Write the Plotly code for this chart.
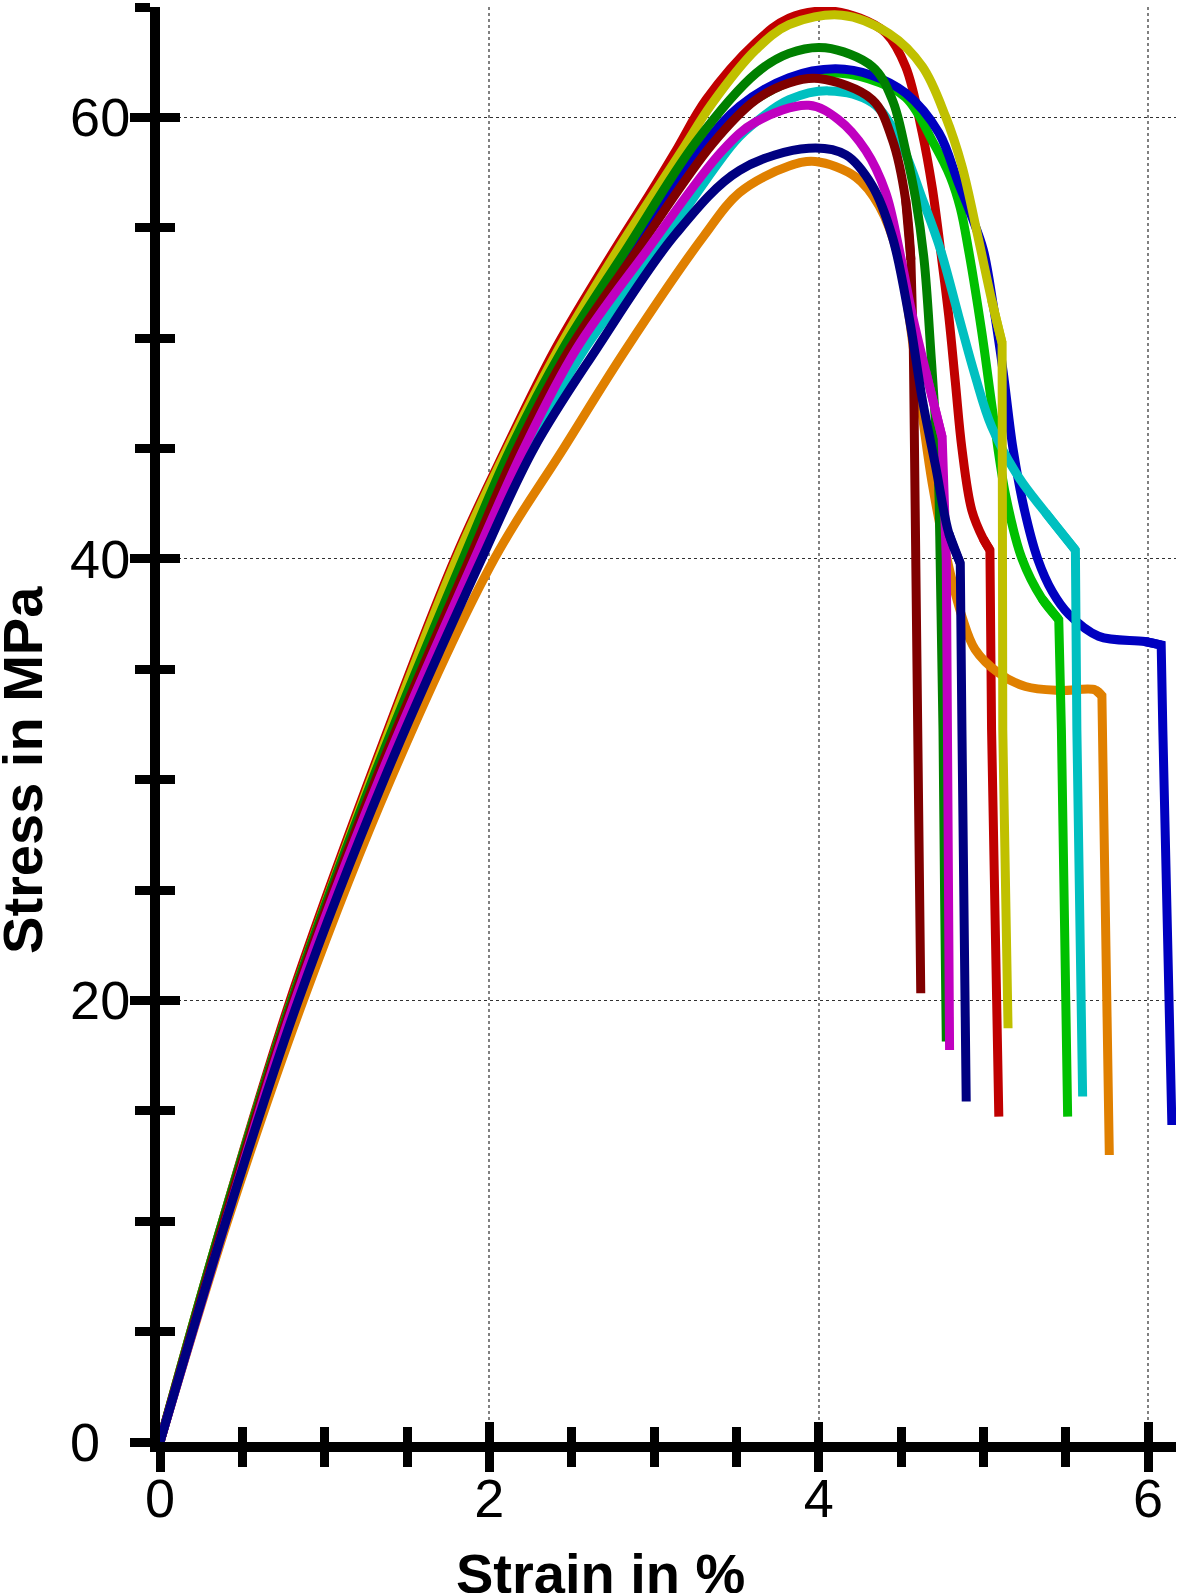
"""Stress-strain curves of ten tensile specimens."""

import plotly.graph_objects as go

# strain in %, stress in MPa, one pair of lists per specimen
strain_red = [0, 0.38, 0.79, 1.27, 1.79, 2.10, 2.40, 2.76, 2.98, 3.134, 3.316, 3.62, 3.82, 4.06, 4.25,
              4.407, 4.528, 4.629, 4.69, 4.74, 4.79, 4.83, 4.87, 4.93, 5.0, 5.04, 5.05, 5.07, 5.094]
stress_red = [0, 10, 20, 30, 40, 45, 49.5, 54, 56.6, 58.5, 60.8, 63.4, 64.5, 64.82, 64.5,
              63.83, 62.3, 59.3, 56.8, 54.0, 51.0, 48.0, 45.0, 42.2, 40.9, 40.4, 32.26, 23.06, 14.74]

strain_orange = [0, 0.41, 0.87, 1.40, 2.03, 2.45, 2.83, 3.30, 3.52, 3.82, 3.98, 4.225, 4.367, 4.488,
                 4.62, 4.69, 4.79, 4.87, 4.95, 5.094, 5.256, 5.458, 5.68, 5.72, 5.73, 5.75, 5.765]
stress_orange = [0, 10, 20, 30, 40, 45, 49.5, 54.6, 56.6, 57.8, 58.0, 57.3, 56.0, 53.55,
                 47.0, 43.4, 39.66, 37.4, 35.9, 34.83, 34.22, 34.04, 34.07, 33.8, 29.1, 20.0, 13.0]

strain_lime = [0, 0.39, 0.80, 1.30, 1.86, 2.16, 2.47, 2.87, 3.28, 3.52, 3.82, 4.05, 4.30, 4.528,
               4.70, 4.80, 4.86, 4.91, 4.99, 5.064, 5.135, 5.235, 5.356, 5.458, 5.474, 5.488, 5.512]
stress_lime = [0, 10, 20, 30, 40, 45, 49.5, 54, 58.5, 60.3, 61.6, 62.0, 61.75, 60.9,
               58.8, 57.3, 55.9, 54.0, 50.3, 46.3, 42.9, 40.0, 38.2, 37.25, 32.26, 24.56, 14.74]

strain_blue = [0, 0.39, 0.81, 1.31, 1.89, 2.19, 2.50, 2.89, 3.30, 3.52, 3.82, 4.10, 4.325, 4.528,
               4.73, 4.85, 4.93, 5.0, 5.06, 5.12, 5.18, 5.25, 5.33, 5.42, 5.518, 5.70, 5.98,
               6.08, 6.09, 6.124, 6.145]
stress_blue = [0, 10, 20, 30, 40, 45, 49.5, 54, 58.7, 60.5, 61.8, 62.2, 61.9, 61.1,
               59.3, 57.0, 55.5, 54.0, 51.5, 48.5, 45.0, 42.2, 40.0, 38.5, 37.5, 36.5, 36.26,
               36.1, 32.26, 23.05, 14.36]

strain_cyan = [0, 0.40, 0.83, 1.34, 1.94, 2.24, 2.579, 3.02, 3.49, 3.62, 3.82, 4.06, 4.326, 4.488,
               4.63, 4.74, 4.85, 4.95, 5.05, 5.215, 5.377, 5.559, 5.568, 5.59, 5.603]
stress_cyan = [0, 10, 20, 30, 40, 45, 49.5, 54, 58.9, 59.8, 60.8, 61.2, 60.66, 59.0,
               56.3, 54.0, 51.0, 48.3, 46.0, 43.7, 42.1, 40.4, 32.26, 23.06, 15.65]

strain_yellow = [0, 0.38, 0.80, 1.28, 1.80, 2.11, 2.42, 2.78, 3.17, 3.35, 3.62, 3.82, 4.14, 4.427,
                 4.63, 4.77, 4.87, 4.97, 5.05, 5.114, 5.118, 5.134, 5.15]
stress_yellow = [0, 10, 20, 30, 40, 45, 49.5, 54, 58.5, 60.6, 63.07, 64.2, 64.63, 63.8,
                 62.3, 60.05, 57.8, 54.5, 51.74, 49.78, 32.26, 24.56, 18.74]

strain_green = [0, 0.38, 0.80, 1.29, 1.84, 2.13, 2.446, 2.83, 3.256, 3.62, 3.82, 4.04, 4.326, 4.447,
                4.528, 4.589, 4.64, 4.68, 4.73, 4.745, 4.755, 4.765, 4.775]
stress_green = [0, 10, 20, 30, 40, 45, 49.5, 54, 58.9, 62.0, 62.9, 63.15, 62.3, 60.8,
                58.5, 56.3, 53.55, 49.5, 43.4, 38.9, 32.26, 24.56, 18.14]

strain_maroon = [0, 0.39, 0.81, 1.31, 1.88, 2.17, 2.488, 2.90, 3.355, 3.62, 3.82, 4.0, 4.326, 4.447,
                 4.528, 4.56, 4.575, 4.59, 4.605, 4.612, 4.62]
stress_maroon = [0, 10, 20, 30, 40, 45, 49.5, 54, 58.8, 60.8, 61.56, 61.76, 60.8, 59.0,
                 56.27, 53.55, 49.5, 39.96, 32.26, 26.07, 20.33]

strain_magenta = [0, 0.40, 0.82, 1.33, 1.91, 2.21, 2.528, 2.96, 3.416, 3.62, 3.94, 4.12, 4.286, 4.407,
                  4.488, 4.57, 4.65, 4.75, 4.775, 4.785, 4.795]
stress_magenta = [0, 10, 20, 30, 40, 45, 49.5, 54, 58.5, 59.8, 60.55, 59.9, 58.5, 56.6,
                  54.05, 51.0, 48.5, 45.5, 40.0, 30.0, 17.76]

strain_navy = [0, 0.40, 0.84, 1.36, 1.953, 2.27, 2.65, 3.13, 3.52, 3.94, 4.165, 4.326, 4.447,
               4.548, 4.63, 4.71, 4.79, 4.86, 4.87, 4.88, 4.896]
stress_navy = [0, 10, 20, 30, 40, 45, 49.5, 54.7, 57.6, 58.6, 58.3, 56.9, 54.6,
               51.0, 47.2, 44.2, 41.17, 39.8, 32.26, 24.56, 15.42]

# (strain, stress, index where the straight fracture drop starts, colour), bottom first
specimens = [
    (strain_red, stress_red, 25, "#c00000"),
    (strain_orange, stress_orange, 23, "#e08000"),
    (strain_lime, stress_lime, 23, "#00c000"),
    (strain_blue, stress_blue, 27, "#0000c0"),
    (strain_cyan, stress_cyan, 21, "#00c0c0"),
    (strain_yellow, stress_yellow, 19, "#c0c000"),
    (strain_green, stress_green, 19, "#008000"),
    (strain_maroon, stress_maroon, 15, "#800000"),
    (strain_magenta, stress_magenta, 17, "#c000c0"),
    (strain_navy, stress_navy, 17, "#000080"),
]

y_tick_vals = [0, 20, 40, 60]
y_tick_text = ["0\u2007", "20", "40", "60"]  # labels sit left-aligned in the original

x_range = [0, 6.17]
y_range = [0, 65]
line_w = 9

fig = go.Figure()
for strain, stress, k, color in specimens:
    # smooth hardening/softening part
    fig.add_trace(go.Scatter(x=strain[:k + 1], y=stress[:k + 1], mode="lines",
                             line=dict(color=color, width=line_w, shape="spline", smoothing=1.0),
                             showlegend=False))
    # fracture drop, straight
    fig.add_trace(go.Scatter(x=strain[k - 1:], y=stress[k - 1:], mode="lines",
                             line=dict(color=color, width=line_w), showlegend=False))
# empty trace so the overlay axes (inner half of the crossing ticks) get drawn
fig.add_trace(go.Scatter(x=[], y=[], xaxis="x2", yaxis="y2", showlegend=False))

tick_font = dict(family="Liberation Sans, Arial, sans-serif", size=54, color="black")
title_font = dict(family="Liberation Sans, Arial, sans-serif", size=56, color="black", weight="bold")

common = dict(ticks="outside", ticklen=20, tickwidth=9, tickcolor="black",
              showline=True, linewidth=10, linecolor="black", zeroline=False,
              layer="below traces", tickfont=tick_font)
fig.update_layout(
    width=1182, height=1593,
    margin=dict(l=160, r=6, t=7, b=151),
    plot_bgcolor="white", paper_bgcolor="white",
    xaxis=dict(range=x_range, dtick=2, tick0=0, showgrid=True, gridcolor="#808080",
               gridwidth=1.5, griddash="dot", ticklabelstandoff=-20,
               minor=dict(dtick=0.5, ticks="outside", ticklen=15, tickwidth=9, tickcolor="black"),
               **common),
    yaxis=dict(range=y_range, tickvals=y_tick_vals, ticktext=y_tick_text, showgrid=True,
               gridcolor="#303030", gridwidth=1, griddash="dot", ticklabelstandoff=-11,
               minor=dict(dtick=5, tick0=0, ticks="outside", ticklen=15, tickwidth=9,
                          tickcolor="black"),
               **common),
    xaxis2=dict(range=x_range, overlaying="x", anchor="y2", dtick=2, tick0=0,
                ticks="inside", ticklen=20, tickwidth=9, tickcolor="black",
                showticklabels=False, showgrid=False, showline=False, zeroline=False,
                layer="below traces",
                minor=dict(dtick=0.5, ticks="inside", ticklen=15, tickwidth=9, tickcolor="black")),
    yaxis2=dict(range=y_range, overlaying="y", anchor="x2", side="left", dtick=20, tick0=0,
                ticks="inside", ticklen=20, tickwidth=9, tickcolor="black",
                showticklabels=False, showgrid=False, showline=False, zeroline=False,
                layer="below traces",
                minor=dict(dtick=5, ticks="inside", ticklen=15, tickwidth=9, tickcolor="black")),
    annotations=[
        dict(text="Strain in %", xref="paper", yref="paper", x=0.4334, y=-0.0913,
             xanchor="center", yanchor="middle", showarrow=False, font=title_font),
        dict(text="Stress in MPa", xref="paper", yref="paper", x=-0.1353, y=0.468,
             xanchor="center", yanchor="middle", textangle=-90, showarrow=False, font=title_font),
    ],
)

fig.write_html("out.html", config={"displayModeBar": False},
               post_script="document.body.style.margin='0px';")
